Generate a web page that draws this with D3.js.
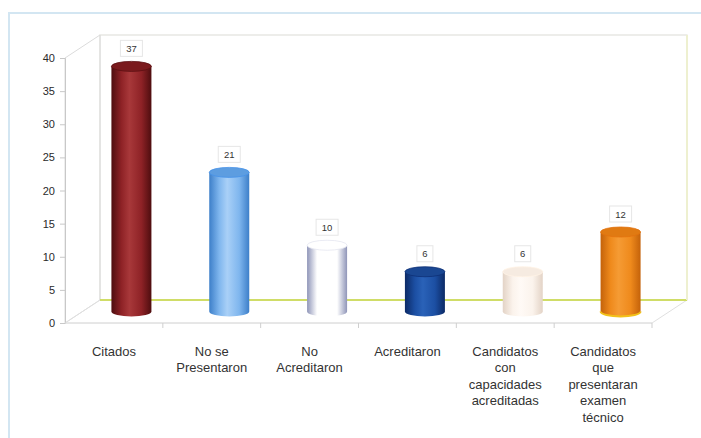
<!DOCTYPE html>
<html>
<head>
<meta charset="utf-8">
<script src="https://cdn.jsdelivr.net/npm/d3@7"></script>
<style>
  html, body { margin: 0; padding: 0; background: #fff; }
  svg { display: block; }
</style>
</head>
<body>
<svg id="chart" width="701" height="438"></svg>
<script>
// Categories (label lines) and counts
const categories = ["Citados", "No se Presentaron", "No Acreditaron", "Acreditaron",
  "Candidatos con capacidades acreditadas", "Candidatos que presentaran examen técnico"];
const labelLines = [
  ["Citados"],
  ["No se", "Presentaron"],
  ["No", "Acreditaron"],
  ["Acreditaron"],
  ["Candidatos", "con", "capacidades", "acreditadas"],
  ["Candidatos", "que", "presentaran", "examen", "técnico"]
];
const values = [37, 21, 10, 6, 6, 12];
const yTicks = [0, 5, 10, 15, 20, 25, 30, 35, 40];

// Cylinder colour stops: edge, mid, highlight
const palettes = [
  { edge: "#4e0d0f", mid: "#8e2226", hi: "#a8383a", cap: "#7a1a1d" },
  { edge: "#3d7fc9", mid: "#7fb6ee", hi: "#a9d0f7", cap: "#5d9de0" },
  { edge: "#8f95b8", mid: "#ffffff", hi: "#ffffff", cap: "#ffffff" },
  { edge: "#0c2a66", mid: "#1c4fa3", hi: "#2a62b8", cap: "#1a4792" },
  { edge: "#e3d3c6", mid: "#fbf3ec", hi: "#fffaf6", cap: "#f6ebe1" },
  { edge: "#c4620a", mid: "#ef8a1c", hi: "#f59b34", cap: "#e07a12" }
];

const svg = d3.select("#chart");

// Front plane of the 3D box and depth offset to the back wall
const plotLeft = 65, plotRight = 652, plotBottom = 323, plotTop = 58;
const depth = { x: 35, y: -23 };

const x = d3.scaleBand().domain(categories).range([plotLeft, plotRight]);
const y = d3.scaleLinear().domain([0, 40]).range([plotBottom, plotTop]);

// Outer frame
svg.append("rect")
  .attr("x", 9).attr("y", 13).attr("width", 700).attr("height", 440)
  .attr("fill", "none").attr("stroke", "#d3e6f2").attr("stroke-width", 2);

const wall = svg.append("g").attr("fill", "none");
const bx0 = plotLeft + depth.x, bx1 = plotRight + depth.x;
const byTop = plotTop + depth.y, byBot = plotBottom + depth.y;

// Back wall
wall.append("rect").attr("x", bx0).attr("y", byTop)
  .attr("width", bx1 - bx0).attr("height", byBot - byTop)
  .attr("fill", "#fff").attr("stroke", "#e2e2dc").attr("stroke-width", 1.2);
// Left wall
wall.append("path")
  .attr("d", `M${plotLeft},${plotTop}L${bx0},${byTop}L${bx0},${byBot}L${plotLeft},${plotBottom}Z`)
  .attr("stroke", "#dcdcdc").attr("stroke-width", 1);
// Floor
wall.append("path")
  .attr("d", `M${plotLeft},${plotBottom}L${bx0},${byBot}L${bx1},${byBot}L${plotRight},${plotBottom}Z`)
  .attr("stroke", "#e0e0e0").attr("stroke-width", 1);
// Back edge of floor
wall.append("line")
  .attr("x1", bx0).attr("x2", bx1).attr("y1", byBot).attr("y2", byBot)
  .attr("stroke", "#c9da3c").attr("stroke-width", 1.6);
// Right edge of back wall
wall.append("line")
  .attr("x1", bx1).attr("x2", bx1).attr("y1", byTop).attr("y2", byBot)
  .attr("stroke", "#eef0d0").attr("stroke-width", 2);

// Y axis
const yAxis = d3.axisLeft(y).tickValues(yTicks).tickSize(5).tickPadding(5);
const gy = svg.append("g").attr("transform", `translate(${plotLeft},0)`).call(yAxis);
gy.select(".domain").attr("stroke", "#c8c8c8");
gy.selectAll(".tick line").attr("stroke", "#c8c8c8");
gy.selectAll(".tick text")
  .attr("font-family", "Liberation Sans, Arial, sans-serif")
  .attr("font-size", 11).attr("fill", "#2a2a2a");

// X axis (category boundary ticks)
svg.append("line")
  .attr("x1", plotLeft).attr("x2", plotRight).attr("y1", plotBottom).attr("y2", plotBottom)
  .attr("stroke", "#dedede");
svg.append("g").selectAll("line")
  .data(categories)
  .join("line")
  .attr("x1", d => x(d) + x.bandwidth()).attr("x2", d => x(d) + x.bandwidth())
  .attr("y1", plotBottom).attr("y2", plotBottom + 5)
  .attr("stroke", "#cfcfcf");

// Category labels
const lbl = svg.append("g")
  .attr("font-family", "Liberation Sans, Arial, sans-serif")
  .attr("font-size", 13).attr("fill", "#333").attr("text-anchor", "middle");
categories.forEach((c, i) => {
  const cxl = x(c) + x.bandwidth() / 2;
  const t = lbl.append("text").attr("x", cxl).attr("y", 356);
  labelLines[i].forEach((line, j) => {
    t.append("tspan").attr("x", cxl).attr("dy", j === 0 ? 0 : 16.4).text(line);
  });
});

// Gradients for cylinders
const defs = svg.append("defs");
palettes.forEach((p, i) => {
  const g = defs.append("linearGradient").attr("id", "cyl" + i)
    .attr("x1", "0%").attr("x2", "100%").attr("y1", "0%").attr("y2", "0%");
  g.append("stop").attr("offset", "0%").attr("stop-color", p.edge);
  g.append("stop").attr("offset", "25%").attr("stop-color", p.mid);
  g.append("stop").attr("offset", "45%").attr("stop-color", p.hi);
  g.append("stop").attr("offset", "75%").attr("stop-color", p.mid);
  g.append("stop").attr("offset", "100%").attr("stop-color", p.edge);
});

// Cylinders sit halfway into the depth of the box
const barW = 40, ry = 5;
const bars = svg.append("g");
values.forEach((v, i) => {
  const c = categories[i];
  const cx = x(c) + x.bandwidth() / 2 + depth.x / 2;
  const yTop = y(v) + depth.y / 2;
  const yBase = y(0) + depth.y / 2;
  const x0 = cx - barW / 2, x1 = cx + barW / 2;
  const p = palettes[i];
  const g = bars.append("g");
  g.append("path")
    .attr("d", `M${x0},${yTop}L${x0},${yBase}A${barW / 2},${ry} 0 0 0 ${x1},${yBase}L${x1},${yTop}Z`)
    .attr("fill", `url(#cyl${i})`);
  if (i === 5) {
    // warm rim at the base of the orange cylinder
    g.append("path")
      .attr("d", `M${x0},${yBase}A${barW / 2},${ry} 0 0 0 ${x1},${yBase}`)
      .attr("fill", "none").attr("stroke", "#f2c11a").attr("stroke-width", 2);
  }
  g.append("ellipse")
    .attr("cx", cx).attr("cy", yTop).attr("rx", barW / 2).attr("ry", ry)
    .attr("fill", p.cap)
    .attr("stroke", i === 2 ? "#e4e6f0" : d3.color(p.edge).brighter(0.4))
    .attr("stroke-width", 0.8);

  // Value label box
  const ly = yTop - 18;
  const txt = String(v);
  const bw = txt.length > 1 ? 22 : 16;
  g.append("rect")
    .attr("x", cx - bw / 2).attr("y", ly - 8).attr("width", bw).attr("height", 16)
    .attr("fill", "#fff").attr("stroke", "#e6e6e6").attr("stroke-width", 1);
  g.append("text")
    .attr("x", cx).attr("y", ly + 3.5)
    .attr("text-anchor", "middle")
    .attr("font-family", "Liberation Sans, Arial, sans-serif")
    .attr("font-size", 9.5).attr("fill", "#333")
    .text(txt);
});
</script>
</body>
</html>
